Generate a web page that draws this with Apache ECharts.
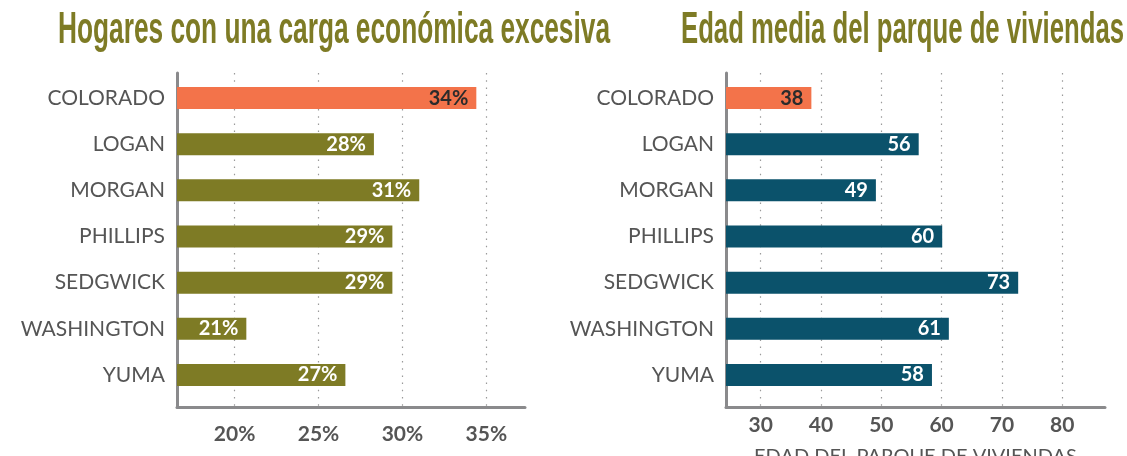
<!DOCTYPE html>
<html>
<head>
<meta charset="utf-8">
<script src="https://cdn.jsdelivr.net/npm/echarts@6/dist/echarts.min.js"></script>
<style>
  html, body { margin: 0; padding: 0; background: #fff; }
  #chart { width: 1127px; height: 456px; }
</style>
</head>
<body>
<div id="chart"></div>
<script>
const counties = ['COLORADO', 'LOGAN', 'MORGAN', 'PHILLIPS', 'SEDGWICK', 'WASHINGTON', 'YUMA']
const burdenPct = [34.4, 28.3, 31.0, 29.4, 29.4, 20.7, 26.6]
const housingAge = [38.4, 56.2, 49.1, 60.1, 72.7, 61.2, 58.4]
const burdenTicks = [20, 25, 30, 35]
const ageTicks = [30, 40, 50, 60, 70, 80]

const OLIVE = '#7e7b25'
const ORANGE = '#f3734a'
const TEAL = '#0b526b'
const AXIS_GREY = '#8a8a8c'
const TEXT_GREY = '#555555'
const FONT = 'Lato, "Open Sans", sans-serif'
const TITLE_FONT = 'bold 45px "Liberation Sans", Arial, sans-serif'

const chart = echarts.init(document.getElementById('chart'))

// no condensed font installed: squeeze the title horizontally to the target width
const measure = document.createElement('canvas').getContext('2d')
measure.font = TITLE_FONT
const titleText = (text, cx, width) => ({
  type: 'text',
  x: cx,
  y: 31,
  scaleX: width / measure.measureText(text).width,
  style: {
    text: text,
    font: TITLE_FONT,
    fill: OLIVE,
    align: 'center',
    verticalAlign: 'middle',
  },
})

// frame axes (axis lines, grid lines, tick labels)
const frameX = (min, max, ticks, fmt, margin, extra) => Object.assign({
  type: 'value',
  min: min,
  max: max,
  axisLine: { show: true, onZero: false, lineStyle: { color: AXIS_GREY, width: 3 } },
  axisTick: { show: false, customValues: ticks },
  axisLabel: {
    customValues: ticks,
    formatter: fmt,
    color: TEXT_GREY,
    fontFamily: FONT,
    fontWeight: 'bold',
    fontSize: 21,
    margin: margin,
  },
  splitLine: {
    show: true,
    lineStyle: { color: '#9a9a9a', width: 1.2, type: [1.5, 5.7] },
  },
}, extra || {})

const frameY = {
  type: 'value',
  min: 0,
  max: 1,
  axisLine: { show: true, onZero: false, lineStyle: { color: AXIS_GREY, width: 3 } },
  axisTick: { show: false },
  axisLabel: { show: false },
  splitLine: { show: false },
}

const barY = {
  type: 'category',
  inverse: true,
  data: counties,
  axisLine: { show: false },
  axisTick: { show: false },
  axisLabel: {
    color: TEXT_GREY,
    fontFamily: FONT,
    fontSize: 21,
    margin: 12,
  },
}

const barLabel = (fmt) => ({
  show: true,
  position: 'insideRight',
  distance: 8,
  color: '#ffffff',
  fontFamily: FONT,
  fontWeight: 'bold',
  fontSize: 20,
  formatter: fmt,
})

const colorize = (values, mainColor) => values.map((v, i) => ({
  value: v,
  itemStyle: { color: i === 0 ? ORANGE : mainColor },
  label: i === 0 ? { color: '#2b2b2b' } : undefined,
}))

const gridBase = { outerBoundsMode: 'none', containLabel: false }

chart.setOption({
  animation: false,
  graphic: [
    titleText('Hogares con una carga económica excesiva', 334, 552),
    titleText('Edad media del parque de viviendas', 902.5, 443),
  ],
  grid: [
    Object.assign({ left: 177, top: 73, width: 348, height: 334 }, gridBase),
    Object.assign({ left: 177, top: 75, width: 348, height: 323 }, gridBase),
    Object.assign({ left: 726, top: 73, width: 379, height: 334 }, gridBase),
    Object.assign({ left: 726, top: 75, width: 379, height: 323 }, gridBase),
  ],
  xAxis: [
    frameX(16.57, 37.3, burdenTicks, (v) => v + '%', 17, { gridIndex: 0 }),
    { type: 'value', gridIndex: 1, min: 16.57, max: 37.3, show: false },
    frameX(24.24, 87.1, ageTicks, (v) => String(v), 8, {
      gridIndex: 2,
      name: 'EDAD DEL PARQUE DE VIVIENDAS',
      nameLocation: 'middle',
      nameGap: 40,
      nameMoveOverlap: false,
      nameTextStyle: { color: TEXT_GREY, fontFamily: FONT, fontSize: 20 },
    }),
    { type: 'value', gridIndex: 3, min: 24.24, max: 87.1, show: false },
  ],
  yAxis: [
    Object.assign({ gridIndex: 0 }, frameY),
    Object.assign({ gridIndex: 1 }, barY),
    Object.assign({ gridIndex: 2 }, frameY),
    Object.assign({ gridIndex: 3 }, barY),
  ],
  series: [
    {
      type: 'bar',
      xAxisIndex: 1,
      yAxisIndex: 1,
      barWidth: 22,
      data: colorize(burdenPct, OLIVE),
      label: barLabel((p) => Math.round(p.value) + '%'),
    },
    {
      type: 'bar',
      xAxisIndex: 3,
      yAxisIndex: 3,
      barWidth: 22,
      data: colorize(housingAge, TEAL),
      label: barLabel((p) => String(Math.round(p.value))),
    },
  ],
})
</script>
</body>
</html>
